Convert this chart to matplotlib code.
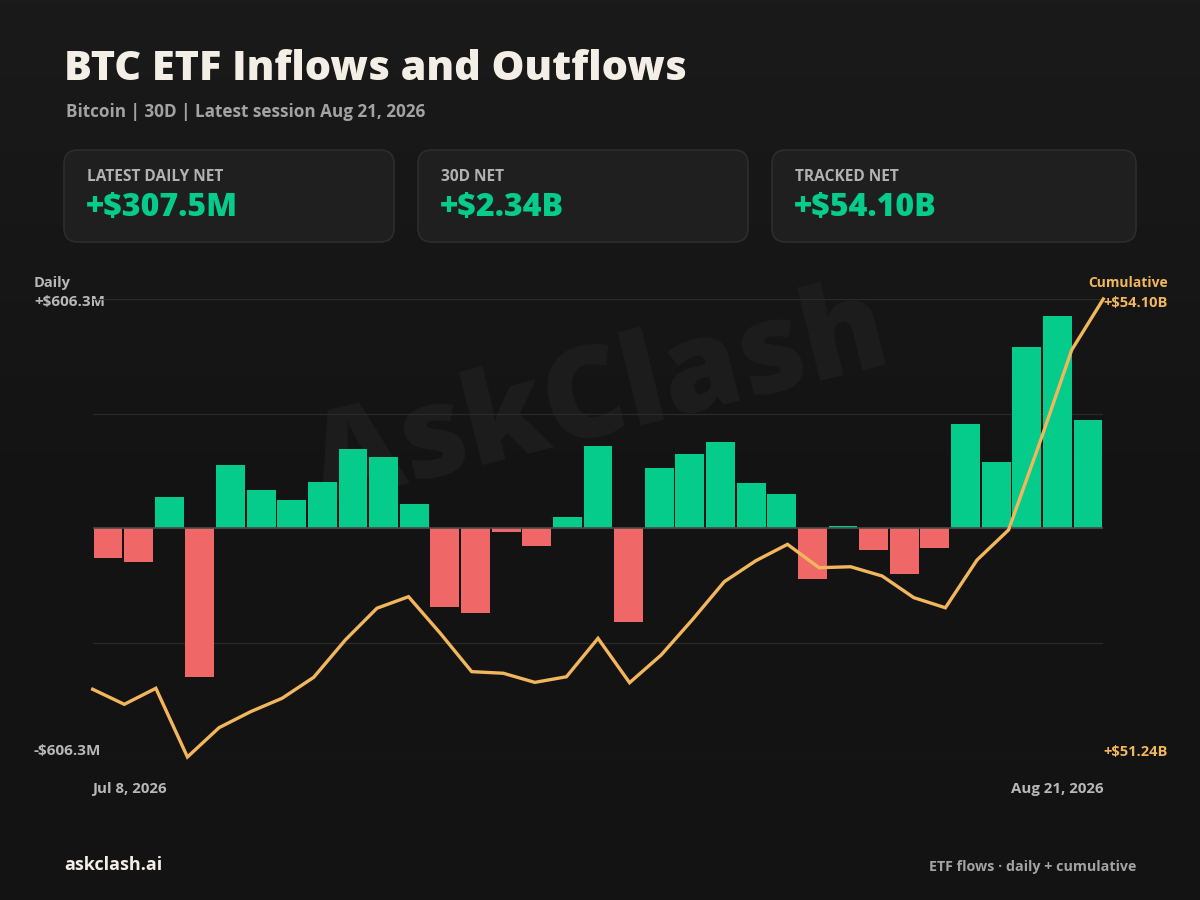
import numpy as np
import matplotlib.pyplot as plt
from matplotlib.patches import FancyBboxPatch

# daily net flows, $M (one bar per session)
daily = [-86.4, -96.7, 89.2, -426.7, 180.8, 107.3, 78.7, 132.1, 226.5, 203.6, 68.1,
         -226.5, -241.7, -12.0, -50.9, 30.9, 233.1, -267.4, 170.2, 212.2, 244.5, 128.1,
         97.8, -146.4, 4.3, -62.3, -132.1, -58.6, 298.0, 189.3, 518.2, 606.3, 307.5]
# cumulative tracked net, $B
cumulative = [51.663, 51.569, 51.669, 51.24, 51.423, 51.523, 51.607, 51.738, 51.971,
              52.169, 52.241, 52.014, 51.773, 51.763, 51.706, 51.741, 51.981, 51.704,
              51.877, 52.100, 52.335, 52.466, 52.568, 52.422, 52.428, 52.370, 52.235,
              52.172, 52.470, 52.658, 53.209, 53.782, 54.10]
start_label = "Jul 8, 2026"
end_label = "Aug 21, 2026"
card_titles = ["LATEST DAILY NET", "30D NET", "TRACKED NET"]
card_values = ["+$307.5M", "+$2.34B", "+$54.10B"]

BG = "#131313"
GREEN = "#05cb8b"
RED = "#f06767"
ORANGE = "#f2b65c"
FONT = ["Open Sans", "DejaVu Sans"]

plt.rcParams['font.family'] = FONT
plt.rcParams['font.weight'] = 'bold'

fig = plt.figure(figsize=(12, 9), dpi=100, facecolor=BG)

# background layer in pixel coords
bg = fig.add_axes([0, 0, 1, 1], zorder=0)
bg.set_xlim(0, 1200)
bg.set_ylim(900, 0)
bg.axis('off')
grad = np.linspace(0, 1, 256).reshape(-1, 1)
bg.imshow(grad, extent=[0, 1200, 900, 0], cmap=plt.matplotlib.colors.LinearSegmentedColormap.from_list(
    "g", ["#1a1a1a", "#141414", BG]), aspect='auto', origin='upper', zorder=0)

bg.text(64, 70, "BTC ETF Inflows and Outflows", color="#f4efe6", fontsize=29.8,
        fontweight='heavy', va='center', ha='left')
bg.text(66, 112, "Bitcoin | 30D | Latest session Aug 21, 2026", color="#a3a3a3",
        fontsize=12.3, va='center', ha='left')

cards = [(64, 394), (418, 748), (772, 1136)]
for (x0, x1), t, v in zip(cards, card_titles, card_values):
    box = FancyBboxPatch((x0, 150), x1 - x0, 92, boxstyle="round,pad=0,rounding_size=14",
                         facecolor="#1f1f1f", edgecolor="#2d2d2d", linewidth=1.2, zorder=2)
    bg.add_patch(box)
    bg.text(x0 + 23, 177, t, color="#b2b2b2", fontsize=11.2, va='center', ha='left', zorder=3)
    bg.text(x0 + 22, 208, v, color=GREEN, fontsize=23, fontweight='heavy',
            va='center', ha='left', zorder=3)

bg.text(600, 402, "AskClash", color="#1d1d1d", fontsize=90, fontweight='heavy',
        rotation=14, ha='center', va='center', zorder=1)

# chart
ax = fig.add_axes([92.7 / 1200, 1 - 757 / 900, (1103.3 - 92.7) / 1200, 458 / 900], zorder=2)
ax.set_facecolor('none')
x = np.arange(len(daily))
vmax = max(abs(v) for v in daily)
lim = vmax * 1.08
colors = [GREEN if v >= 0 else RED for v in daily]
ax.bar(x, daily, width=0.94, color=colors, zorder=3)
ax.set_xlim(-0.5, len(daily) - 0.5)
ax.set_ylim(-lim, lim)
for gy in np.linspace(-lim, lim, 5):
    ax.axhline(gy, color="#2a2a2a", linewidth=0.9, zorder=1)
ax.axhline(0, color="#4a4a4a", linewidth=1.2, zorder=4)
ax.axis('off')

ax2 = ax.twinx()
ax2.set_ylim(min(cumulative), max(cumulative))
ax2.plot(np.linspace(-0.5, len(daily) - 0.5, len(cumulative)), cumulative, color=ORANGE,
         linewidth=2.4, solid_joinstyle='miter', clip_on=False, zorder=5)
ax2.axis('off')

lab = "#b8b8b8"
bg.text(34, 283, "Daily", color=lab, fontsize=10.5, va='center', ha='left')
bg.text(34, 302, "+$%.1fM" % vmax, color=lab, fontsize=11, va='center', ha='left')
bg.text(34, 751, "-$%.1fM" % vmax, color=lab, fontsize=11, va='center', ha='left')
bg.text(1168, 283, "Cumulative", color=ORANGE, fontsize=10, va='center', ha='right')
bg.text(1168, 303, "+$%.2fB" % max(cumulative), color=ORANGE, fontsize=10.5, va='center', ha='right')
bg.text(1168, 752, "+$%.2fB" % min(cumulative), color=ORANGE, fontsize=10.5, va='center', ha='right')

bg.text(92, 789, start_label, color=lab, fontsize=10.8, va='center', ha='left')
bg.text(1104, 789, end_label, color=lab, fontsize=10.8, va='center', ha='right')

bg.text(64, 865, "askclash.ai", color="#f4efe6", fontsize=13, va='center', ha='left')
bg.text(1136, 867, "ETF flows · daily + cumulative", color="#a3a3a3", fontsize=10.3,
        va='center', ha='right')

fig.savefig("out.png", dpi=100, facecolor=BG)
